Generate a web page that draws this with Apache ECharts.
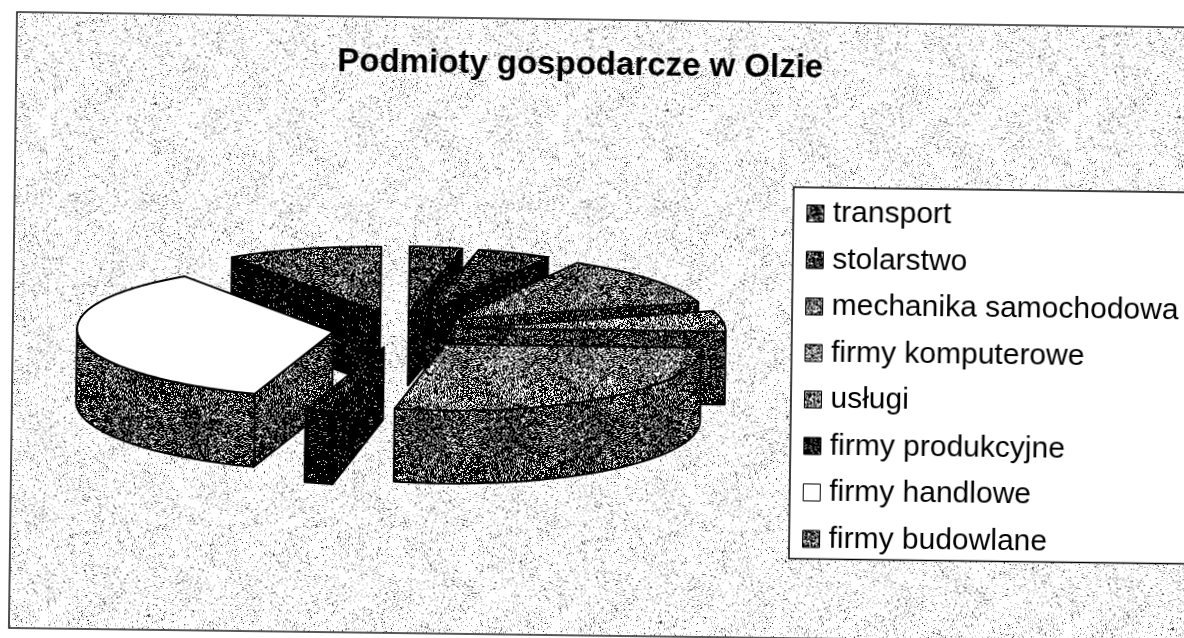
<!DOCTYPE html>
<html>
<head>
<meta charset="utf-8">
<script src="https://cdn.jsdelivr.net/npm/echarts@6/dist/echarts.min.js"></script>
<style>
  html, body { margin: 0; height: 100%; background: #fff; overflow: hidden; }
  /* the source is a scan, so the whole sheet sits slightly crooked */
  #chart { width: 1300px; height: 680px; transform-origin: 0 0; transform: translate(15px, 10px) rotate(0.75deg); }
</style>
</head>
<body>
<div id="chart"></div>
<script>
const categories = ['transport', 'stolarstwo', 'mechanika samochodowa', 'firmy komputerowe', 'usługi', 'firmy produkcyjne', 'firmy handlowe', 'firmy budowlane']
const shares = [3.3, 4.6, 12.1, 5, 28.1, 1.8, 35.2, 9.9]

// share of white pixels in the dither of each slice
const topTones = [0.2, 0.18, 0.38, 0.48, 0.42, 0.1, 1, 0.3]
const wallTones = [0.03, 0.03, 0.15, 0.18, 0.26, 0.04, 0.26, 0.03]
// paint order, back to front
const paintOrder = [7, 0, 1, 2, 3, 6, 5, 4]

const pie = { cx: 390.5, cy: 315, rx: 256, ry: 66, depth: 73, explode: 0.27 }

// texture only: a fixed generator so the dither is the same on every run
const noiseFrom = (seed) => {
  let s = seed
  return () => {
    s = (Math.imul(s, 1664525) + 1013904223) >>> 0
    return ((s >>> 8) & 0xffff) / 65536
  }
}

const dither = (tone, seed) => {
  const size = 320
  const next = noiseFrom(seed)
  const canvas = document.createElement('canvas')
  canvas.width = canvas.height = size
  const ctx = canvas.getContext('2d')
  ctx.fillStyle = '#000'
  ctx.fillRect(0, 0, size, size)
  ctx.fillStyle = '#fff'
  for (let y = 0; y < size; y++) {
    for (let x = 0; x < size; x++) {
      const swirl = 1 + 0.15 * Math.sin(x * 0.07 + 2 * Math.sin(y * 0.05))
      if (next() < tone * swirl) ctx.fillRect(x, y, 1, 1)
    }
  }
  return { image: canvas, repeat: 'repeat' }
}

const paperTile = () => {
  const size = 512
  const next = noiseFrom(77)
  const canvas = document.createElement('canvas')
  canvas.width = canvas.height = size
  const ctx = canvas.getContext('2d')
  ctx.fillStyle = '#fff'
  ctx.fillRect(0, 0, size, size)
  for (let y = 0; y < size; y++) {
    for (let x = 0; x < size; x++) {
      const swirl = 1 + 0.3 * Math.sin(x * 0.09 + 2 * Math.sin(y * 0.07))
      const n = next()
      if (n < 0.022 * swirl) {
        ctx.fillStyle = '#222'
        ctx.fillRect(x, y, 1, 1)
      } else if (n < 0.12 * swirl) {
        ctx.fillStyle = '#a8a8a8'
        ctx.fillRect(x, y, 1, 1)
      }
    }
  }
  return { image: canvas, repeat: 'repeat' }
}

const total = shares.reduce((a, b) => a + b, 0)
let running = 0
const slices = shares.map((v) => {
  const start = running
  running += (v / total) * 360
  return [start, running]
})

const rad = (deg) => (deg * Math.PI) / 180
const rimPoint = (ox, oy, t) => [ox + pie.rx * Math.sin(rad(t)), oy - pie.ry * Math.cos(rad(t))]

const rimArc = (ox, oy, from, to) => {
  const pts = []
  const steps = Math.max(2, Math.ceil(to - from))
  for (let i = 0; i <= steps; i++) pts.push(rimPoint(ox, oy, from + ((to - from) * i) / steps))
  return pts
}

const facePolygon = (points, fill) => ({
  type: 'polygon',
  shape: { points },
  style: { fill, stroke: '#000', lineWidth: 2, lineJoin: 'round' }
})

const topFills = topTones.map((t, i) => (t === 1 ? '#fff' : dither(t, 100 + i)))
const wallFills = wallTones.map((t, i) => dither(t, 200 + i))

const renderSlice = (idx) => (params, api) => {
  const t0 = api.value(0)
  const t1 = api.value(1)
  const mid = (t0 + t1) / 2
  const ox = pie.cx + pie.explode * pie.rx * Math.sin(rad(mid))
  const oy = pie.cy - pie.explode * pie.ry * Math.cos(rad(mid))
  const d = pie.depth
  const down = (p) => [p[0], p[1] + d]
  const children = []

  const cutWall = (t) => {
    const p = rimPoint(ox, oy, t)
    return facePolygon([[ox, oy], p, down(p), [ox, oy + d]], wallFills[idx])
  }
  if (Math.sin(rad(t0)) < -0.001) children.push(cutWall(t0))
  if (Math.sin(rad(t1)) > 0.001) children.push(cutWall(t1))

  // front rim, only the part between 90 and 270 degrees faces the viewer
  const a = Math.max(t0, 90)
  const b = Math.min(t1, 270)
  if (b > a) {
    const arc = rimArc(ox, oy, a, b)
    children.push(facePolygon(arc.concat(arc.map(down).reverse()), wallFills[idx]))
  }

  children.push(facePolygon([[ox, oy]].concat(rimArc(ox, oy, t0, t1)), topFills[idx]))
  return { type: 'group', children }
}

const chart = echarts.init(document.getElementById('chart'), null, { renderer: 'canvas' })

chart.setOption({
  animation: false,
  title: {
    text: 'Podmioty gospodarcze w Olzie',
    left: 561,
    top: 26,
    textAlign: 'center',
    textStyle: { fontFamily: 'Liberation Sans', fontSize: 33, fontWeight: 'bold', color: '#000' }
  },
  legend: {
    orient: 'vertical',
    left: 781,
    top: 167,
    data: categories,
    icon: 'rect',
    itemWidth: 17,
    itemHeight: 17,
    itemGap: 16.5,
    padding: [11, 60, 5, 13],
    backgroundColor: '#fff',
    borderColor: '#000',
    borderWidth: 1.5,
    borderRadius: 0,
    selectedMode: false,
    textStyle: { fontFamily: 'Liberation Sans', fontSize: 30, color: '#000', padding: [0, 0, 0, 4] },
    itemStyle: { borderColor: '#000', borderWidth: 1 }
  },
  graphic: [{
    type: 'rect',
    z: -1,
    silent: true,
    shape: { x: 2, y: 2, width: 1400, height: 616 },
    style: { fill: paperTile(), stroke: '#222', lineWidth: 1.6 }
  }],
  series: categories.map((name, i) => ({
    type: 'custom',
    name,
    coordinateSystem: 'none',
    z: 2 + paintOrder.indexOf(i),
    silent: true,
    itemStyle: { color: topFills[i] },
    renderItem: renderSlice(i),
    data: [slices[i]]
  }))
})
</script>
</body>
</html>
